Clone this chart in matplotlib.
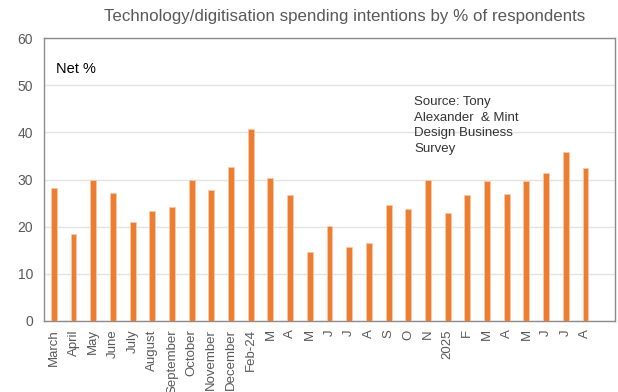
import matplotlib
matplotlib.use("Agg")
import matplotlib.pyplot as plt

plt.rcParams['font.family'] = ['Liberation Sans', 'DejaVu Sans']

categories = ["March", "April", "May", "June", "July", "August", "September",
              "October", "November", "December", "Feb-24", "M", "A", "M", "J",
              "J", "A", "S", "O", "N", "2025", "F", "M", "A", "M", "J", "J", "A"]
values = [28.2, 18.4, 30.0, 27.1, 20.9, 23.4, 24.1, 30.0, 27.7, 32.7, 40.8,
          30.4, 26.8, 14.6, 20.2, 15.6, 16.6, 24.6, 23.8, 29.9, 22.8, 26.8,
          29.7, 27.0, 29.7, 31.4, 35.9, 32.4]
yticks = [0, 10, 20, 30, 40, 50, 60]

fig = plt.figure(figsize=(6.18, 3.92), dpi=100)
ax = fig.add_axes([44/618, 1-321/392, (615-44)/618, (321-38)/392])

x = list(range(len(categories)))
ax.bar(x, values, width=0.3, color="#ED7D31", edgecolor="#F8C9A8", linewidth=0.6, zorder=3)

ax.set_xlim(-0.5, len(categories) + 0.5)
ax.set_ylim(0, 60)
ax.set_yticks(yticks)
ax.set_yticklabels([str(v) for v in yticks], fontsize=10, color="#595959")
ax.set_xticks(x)
ax.set_xticklabels(categories, rotation=90, fontsize=9.5, color="#595959")
ax.tick_params(length=0)
ax.tick_params(axis='x', pad=6)
ax.tick_params(axis='y', pad=8)
ax.yaxis.grid(True, color="#E3E3E3", linewidth=1, zorder=0)
ax.set_axisbelow(True)
for s in ax.spines.values():
    s.set_color("#8C8C8C")
    s.set_linewidth(1)

fig.text(345/618, 1-17/392, "Technology/digitisation spending intentions by % of respondents",
         ha="center", va="center", fontsize=12.2, color="#595959")
fig.text(56/618, 1-69/392, "Net %", fontsize=10.5, color="#000000",
         ha="left", va="center")
fig.text(414/618, 1-96/392, "Source: Tony\nAlexander  & Mint\nDesign Business\nSurvey",
         fontsize=9.5, color="#333333", ha="left", va="top", linespacing=1.4)

fig.savefig("out.png", dpi=100)
